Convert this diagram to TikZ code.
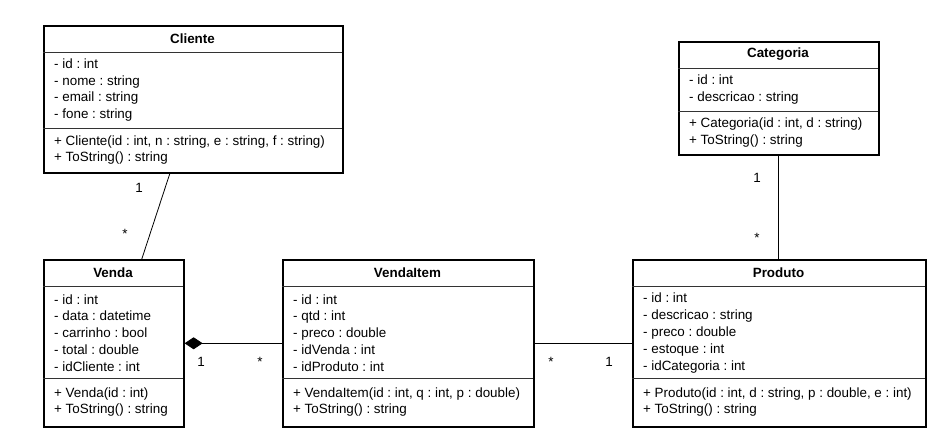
\documentclass[tikz,border=0pt]{standalone}
\usepackage{fontspec}
\setmainfont{Liberation Sans}
\usetikzlibrary{arrows.meta,calc}
\frenchspacing
\tikzset{>=stealth,
  classbox/.style={draw, line width=1.6pt, anchor=north west, inner sep=0pt},
  classtitle/.style={font=\fontsize{13.4}{16.8}\selectfont\bfseries, inner sep=0pt},
  members/.style={anchor=west, align=left, inner sep=0pt, font=\fontsize{13.4}{16.8}\selectfont},
  divider/.style={line width=0.8pt, draw=black!80},
  mult/.style={inner sep=0pt, text height=9pt, text depth=0pt},
  assoc/.style={line width=0.8pt}}

\begin{document}
\begin{tikzpicture}[x=1pt, y=-1pt, font=\fontsize{13.4}{16.8}\selectfont]
\useasboundingbox (0,0) rectangle (940,446);

% Cliente
\node[classbox, minimum width=299pt, minimum height=147pt] (cliente) at (43,25) {};
\node[classtitle] (clienteT) at (192.5,38.5) {Cliente};
\draw[divider] (43,52) -- (342,52) (43,128) -- (342,128);
\node[members] (clienteA) at (54,90) {- id : int\\- nome : string\\- email : string\\- fone : string};
\node[members] (clienteM) at (54,150) {+ Cliente(id : int, n : string, e : string, f : string)\\+ ToString() : string};

% Categoria
\node[classbox, minimum width=200pt, minimum height=113pt] (categoria) at (678,41) {};
\node[classtitle] (categoriaT) at (778,54.5) {Categoria};
\draw[divider] (678,68) -- (878,68) (678,111) -- (878,111);
\node[members] (categoriaA) at (689,89.5) {- id : int\\- descricao : string};
\node[members] (categoriaM) at (689,132.5) {+ Categoria(id : int, d : string)\\+ ToString() : string};

% Venda
\node[classbox, minimum width=140pt, minimum height=167pt] (venda) at (43,259) {};
\node[classtitle] (vendaT) at (113,272.5) {Venda};
\draw[divider] (43,286) -- (183,286) (43,378) -- (183,378);
\node[members] (vendaA) at (54,333) {- id : int\\- data : datetime\\- carrinho : bool\\- total : double\\- idCliente : int};
\node[members] (vendaM) at (54,402) {+ Venda(id : int)\\+ ToString() : string};

% VendaItem
\node[classbox, minimum width=251pt, minimum height=167pt] (vendaitem) at (282,259) {};
\node[classtitle] (vendaitemT) at (407.5,272.5) {VendaItem};
\draw[divider] (282,286) -- (533,286) (282,378) -- (533,378);
\node[members] (vendaitemA) at (293,333) {- id : int\\- qtd : int\\- preco : double\\- idVenda : int\\- idProduto : int};
\node[members] (vendaitemM) at (293,402) {+ VendaItem(id : int, q : int, p : double)\\+ ToString() : string};

% Produto
\node[classbox, minimum width=293pt, minimum height=167pt] (produto) at (632,259) {};
\node[classtitle] (produtoT) at (778.5,272.5) {Produto};
\draw[divider] (632,286) -- (925,286) (632,378) -- (925,378);
\node[members] (produtoA) at (643,333) {- id : int\\- descricao : string\\- preco : double\\- estoque : int\\- idCategoria : int};
\node[members] (produtoM) at (643,402) {+ Produto(id : int, d : string, p : double, e : int)\\+ ToString() : string};

% associations
\draw[assoc] ($(cliente.south)+(-23.5,0)$) -- ($(venda.north)+(28,0)$);
\draw[assoc] (categoria.south) -- (categoria.south |- produto.north);
\draw[assoc, {Diamond[length=18pt, width=12pt]}-] (venda.east) -- (vendaitem.west);
\draw[assoc] (vendaitem.east) -- (produto.west);

% multiplicities
\node[mult] (m1) at (139,188) {1};
\node[mult] (m2) at (125,234) {*};
\node[mult] (m3) at (757,178) {1};
\node[mult] (m4) at (757,238) {*};
\node[mult] (m5) at (201,362) {1};
\node[mult] (m6) at (260,362) {*};
\node[mult] (m7) at (551,362) {*};
\node[mult] (m8) at (609,362) {1};
\end{tikzpicture}
\end{document}
